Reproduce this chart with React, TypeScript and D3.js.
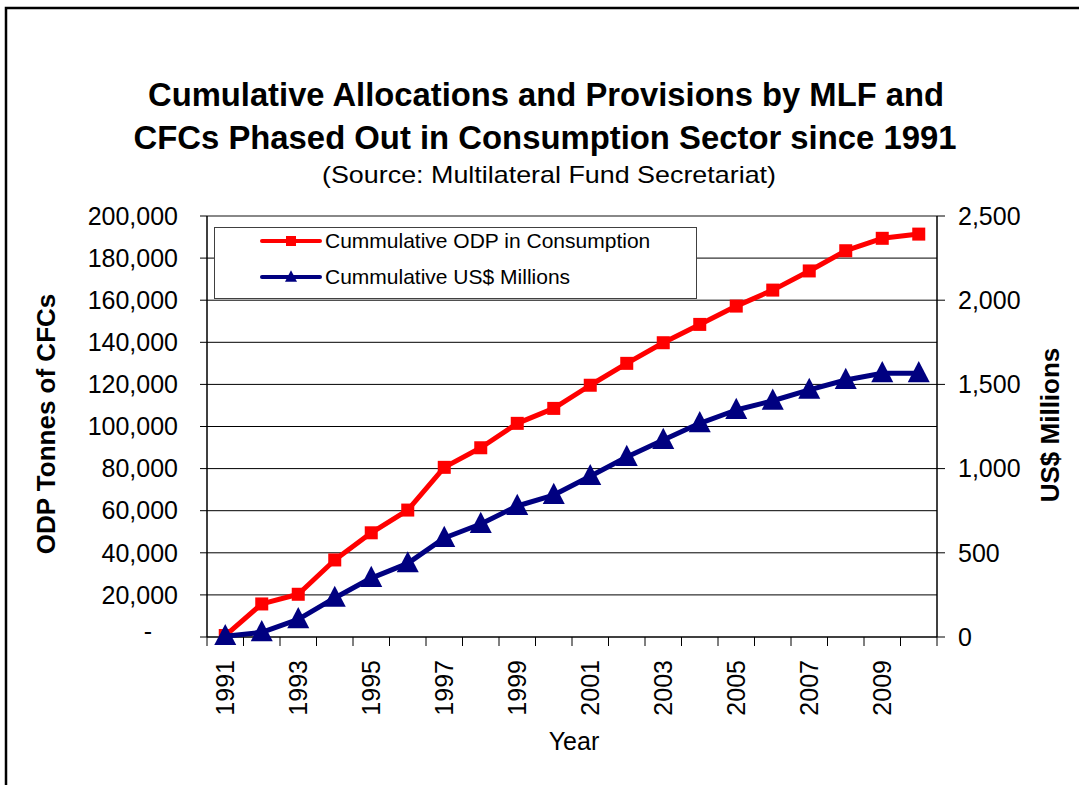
import React from "react";
import * as d3 from "d3";

const years: number[] = [1991, 1992, 1993, 1994, 1995, 1996, 1997, 1998, 1999, 2000, 2001, 2002, 2003, 2004, 2005, 2006, 2007, 2008, 2009, 2010];
const odpValues: number[] = [700, 15700, 20300, 36600, 49500, 60300, 80600, 89900, 101500, 108600, 119600, 130000, 139800, 148500, 157200, 164800, 173900, 183500, 189400, 191400];
const usdValues: number[] = [5, 28, 105, 232, 350, 437, 588, 671, 778, 843, 955, 1069, 1170, 1269, 1348, 1403, 1467, 1526, 1566, 1566];
const leftTicks: number[] = [0, 20000, 40000, 60000, 80000, 100000, 120000, 140000, 160000, 180000, 200000];
const rightTicks: number[] = [0, 500, 1000, 1500, 2000, 2500];
const labelYears: number[] = [1991, 1993, 1995, 1997, 1999, 2001, 2003, 2005, 2007, 2009];
const titleLines: string[] = [
  "Cumulative Allocations and Provisions by MLF and",
  "CFCs Phased Out in Consumption Sector since 1991",
];
const subtitle = "(Source: Multilateral Fund Secretariat)";
const seriesNames: string[] = ["Cummulative ODP in Consumption", "Cummulative US$ Millions"];

const FONT = "Arial, 'Liberation Sans', sans-serif";
const RED = "#FF0000";
const NAVY = "#000080";

export default function App() {
  const left = 207, right = 937, top = 216, bottom = 637;
  const x = d3.scaleBand<number>().domain(years).range([left, right]).padding(0);
  const bw = x.bandwidth();
  const cx = (yr: number) => (x(yr) as number) + bw / 2;
  const yL = d3.scaleLinear().domain([0, 200000]).range([bottom, top]);
  const yR = d3.scaleLinear().domain([0, 2500]).range([bottom, top]);

  const redLine = d3.line<number>().x((_, i) => cx(years[i])).y((d) => yL(d));
  const blueLine = d3.line<number>().x((_, i) => cx(years[i])).y((d) => yR(d));
  const fmt = d3.format(",");

  const tri = (px: number, py: number, s: number) => {
    const h = s * 0.9;
    return `M${px},${py - h * 0.62}L${px + s / 2},${py + h * 0.45}L${px - s / 2},${py + h * 0.45}Z`;
  };

  const boundaries = [...years.map((yr) => x(yr) as number), right];

  return (
    <svg width={1079} height={785} style={{ position: "absolute", left: 0, top: 0, display: "block", background: "#fff" }} fontFamily={FONT}>
      <rect x={0} y={0} width={1079} height={785} fill="#fff" />
      <rect x={6} y={8} width={1200} height={900} fill="none" stroke="#000" strokeWidth={2.5} />

      {/* Title */}
      <text x={546} y={106} textAnchor="middle" fontSize={33} fontWeight="bold" textLength={796} lengthAdjust="spacingAndGlyphs">{titleLines[0]}</text>
      <text x={545} y={149} textAnchor="middle" fontSize={33} fontWeight="bold" textLength={823} lengthAdjust="spacingAndGlyphs">{titleLines[1]}</text>
      <text x={549} y={183} textAnchor="middle" fontSize={24} textLength={454} lengthAdjust="spacingAndGlyphs">{subtitle}</text>

      {/* Gridlines */}
      {leftTicks.filter((t) => t > 0 && t < 200000).map((t) => (
        <line key={"g" + t} x1={left} x2={right} y1={yL(t)} y2={yL(t)} stroke="#000" strokeWidth={1} />
      ))}
      {/* Plot border top */}
      <line x1={left} x2={right} y1={top} y2={top} stroke="#888" strokeWidth={2} />

      {/* Axes lines */}
      <line x1={left} x2={left} y1={top} y2={bottom} stroke="#000" strokeWidth={1.5} />
      <line x1={right} x2={right} y1={top} y2={bottom} stroke="#000" strokeWidth={1.5} />
      <line x1={left} x2={right} y1={bottom} y2={bottom} stroke="#000" strokeWidth={1.5} />

      {/* Left ticks */}
      {leftTicks.map((t) => (
        <g key={"l" + t}>
          <line x1={left - 7} x2={left} y1={yL(t)} y2={yL(t)} stroke="#000" strokeWidth={1} />
          <text x={t === 0 ? 152 : 178} y={yL(t)} dy={t === 0 ? "0.1em" : "0.35em"} textAnchor="end" fontSize={25}>
            {t === 0 ? "-" : fmt(t)}
          </text>
        </g>
      ))}

      {/* Right ticks */}
      {rightTicks.map((t) => (
        <g key={"r" + t}>
          <line x1={right} x2={right + 8} y1={yR(t)} y2={yR(t)} stroke="#000" strokeWidth={1} />
          <text x={958} y={yR(t)} dy="0.35em" textAnchor="start" fontSize={25}>{fmt(t)}</text>
        </g>
      ))}

      {/* Bottom ticks */}
      {boundaries.map((b, i) => (
        <line key={"b" + i} x1={b} x2={b} y1={bottom} y2={bottom + 9} stroke="#000" strokeWidth={1} />
      ))}
      {labelYears.map((yr) => (
        <text key={"xl" + yr} transform={`translate(${cx(yr)},660) rotate(-90)`} dy="0.35em" textAnchor="end" fontSize={25}>{yr}</text>
      ))}

      {/* Axis titles */}
      <text transform="translate(55,424) rotate(-90)" textAnchor="middle" fontSize={26} fontWeight="bold">ODP Tonnes of CFCs</text>
      <text transform="translate(1059,425) rotate(-90)" textAnchor="middle" fontSize={26} fontWeight="bold">US$ Millions</text>
      <text x={574} y={750} textAnchor="middle" fontSize={25}>Year</text>

      {/* Red series */}
      <path d={redLine(odpValues) || ""} fill="none" stroke={RED} strokeWidth={5} strokeLinejoin="round" />
      {odpValues.map((v, i) => (
        <rect key={"rs" + i} x={cx(years[i]) - 6.5} y={yL(v) - 6.5} width={13} height={13} fill={RED} />
      ))}

      {/* Blue series */}
      <path d={blueLine(usdValues) || ""} fill="none" stroke={NAVY} strokeWidth={5} strokeLinejoin="round" />
      {usdValues.map((v, i) => (
        <path key={"bt" + i} d={tri(cx(years[i]), yR(v), 22)} fill={NAVY} />
      ))}

      {/* Legend */}
      <rect x={214.5} y={227.5} width={482} height={71} fill="#fff" stroke="#404040" strokeWidth={1} />
      <line x1={262} x2={320} y1={241} y2={241} stroke={RED} strokeWidth={4} strokeLinecap="round" />
      <rect x={286} y={236} width={10} height={10} fill={RED} />
      <text x={325} y={241} dy="0.35em" fontSize={21}>{seriesNames[0]}</text>
      <line x1={262} x2={320} y1={277} y2={277} stroke={NAVY} strokeWidth={4} strokeLinecap="round" />
      <path d={tri(291, 277, 12)} fill={NAVY} />
      <text x={325} y={277} dy="0.35em" fontSize={21}>{seriesNames[1]}</text>
    </svg>
  );
}
